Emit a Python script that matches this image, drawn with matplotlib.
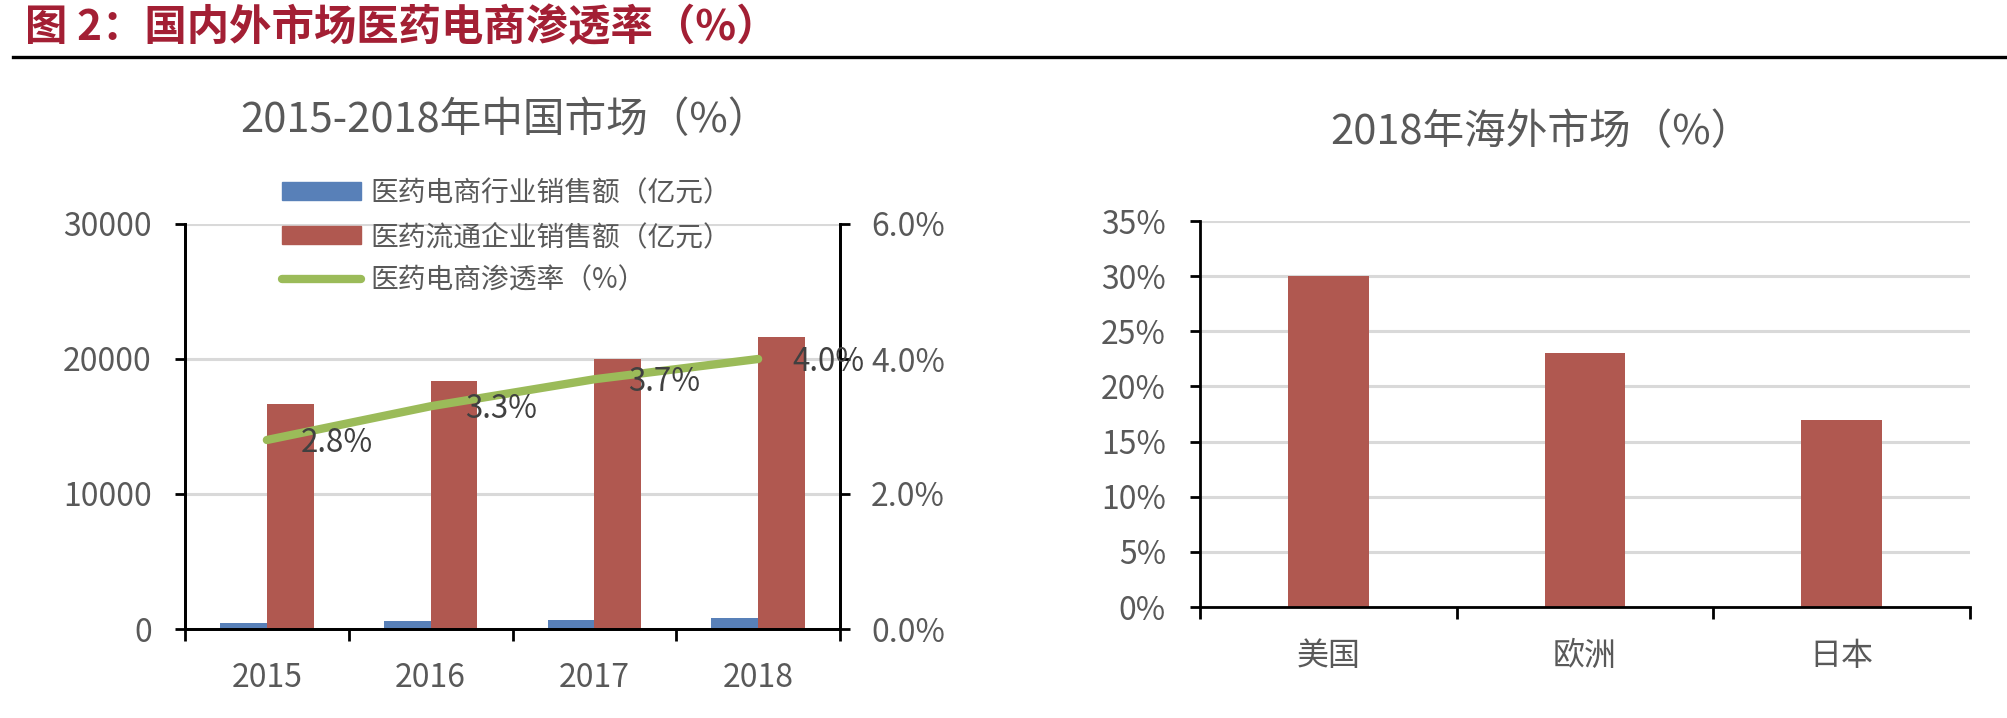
import numpy as np
import matplotlib
matplotlib.use('Agg')
import matplotlib.pyplot as plt
from matplotlib.lines import Line2D
from matplotlib.patches import Patch

plt.rcParams['font.family'] = ['Noto Sans CJK SC', 'DejaVu Sans']

""" Data """

years = ['2015', '2016', '2017', '2018']
ecommerce_sales = [450, 580, 700, 830]            # 医药电商行业销售额（亿元）
distribution_sales = [16700, 18400, 20000, 21600]  # 医药流通企业销售额（亿元）
penetration = [2.8, 3.3, 3.7, 4.0]                 # 医药电商渗透率（%）

regions = ['美国', '欧洲', '日本']
overseas_rate = [30, 23, 17]                       # 2018年海外市场（%）

left_ticks = [0, 10000, 20000, 30000]
right_ticks = [0.0, 2.0, 4.0, 6.0]
overseas_ticks = [0, 5, 10, 15, 20, 25, 30, 35]

""" Style """

W, H = 2008, 718
blue = '#5880B8'
red = '#B05850'
green = '#9BBB59'
grid_c = '#D9D9D9'
text_c = '#595959'
label_c = '#404040'
title_red = '#A31F34'


def fx(px):
    return px / W


def fy(py):
    return 1 - py / H


fig = plt.figure(figsize=(W / 100, H / 100), dpi=100)

# Figure header and rule
fig.text(fx(25), fy(28), '图 2：国内外市场医药电商渗透率（%）', fontsize=30.5,
         fontweight='bold', color=title_red, ha='left', va='center')
fig.add_artist(Line2D([fx(13), 1.0], [fy(57), fy(57)], color='black', lw=2.4,
                      transform=fig.transFigure))

""" Left chart: China market """

ax = fig.add_axes([fx(185), fy(629), fx(840) - fx(185), fy(224) - fy(629)])
x = np.arange(len(years))
bw = 0.286
ax.bar(x - bw / 2, ecommerce_sales, bw, color=blue, zorder=2)
ax.bar(x + bw / 2, distribution_sales, bw, color=red, zorder=2)
ax.set_xlim(-0.5, len(years) - 0.5)
ax.set_ylim(0, 30000)
ax.set_yticks(left_ticks)
ax.set_yticklabels([str(t) for t in left_ticks])
ax.set_axisbelow(True)
ax.yaxis.grid(True, color=grid_c, lw=2.2)

# boundaries get the tick marks, centres get the labels
ax.set_xticks(np.arange(-0.5, len(years), 1.0))
ax.set_xticklabels([])
ax.set_xticks(x, minor=True)
ax.set_xticklabels(years, minor=True)
ax.tick_params(axis='x', which='major', direction='out', length=8.5, width=2, color='black')
ax.tick_params(axis='x', which='minor', length=0, pad=24, labelsize=23, labelcolor=text_c)
ax.tick_params(axis='y', direction='out', length=7.5, width=2, color='black',
               pad=16.5, labelsize=23, labelcolor=text_c)
for s in ['left', 'right', 'bottom']:
    ax.spines[s].set_linewidth(2)
    ax.spines[s].set_color('black')
ax.spines['top'].set_visible(False)

ax2 = ax.twinx()
ax2.plot(x, penetration, color=green, lw=6, solid_capstyle='round', zorder=3)
ax2.set_ylim(0, 6.0)
ax2.set_yticks(right_ticks)
ax2.set_yticklabels([f'{t:.1f}%' for t in right_ticks])
ax2.tick_params(axis='y', direction='out', length=7.5, width=2, color='black',
                pad=15, labelsize=23, labelcolor=text_c)
for s in ['left', 'right', 'bottom']:
    ax2.spines[s].set_linewidth(2)
    ax2.spines[s].set_color('black')
ax2.spines['top'].set_visible(False)
for xi, v in zip(x, penetration):
    ax2.annotate(f'{v:.1f}%', (xi, v), xytext=(24.5, -2), textcoords='offset points',
                 ha='left', va='center', fontsize=22.5, color=label_c, zorder=4)

fig.text(fx(505), fy(120), '2015-2018年中国市场（%）', fontsize=30, color=text_c,
         ha='center', va='center')

handles = [Patch(color=blue), Patch(color=red),
           Line2D([0], [0], color=green, lw=6, solid_capstyle='round')]
labels = ['医药电商行业销售额（亿元）', '医药流通企业销售额（亿元）', '医药电商渗透率（%）']
fig.legend(handles, labels, loc='upper left', bbox_to_anchor=(fx(282), fy(178)),
           bbox_transform=fig.transFigure, frameon=False, fontsize=20,
           handlelength=2.85, handleheight=0.6, handletextpad=0.33, labelspacing=0.5,
           borderpad=0, borderaxespad=0, labelcolor=text_c)

""" Right chart: overseas markets 2018 """

bx = fig.add_axes([fx(1200), fy(607), fx(1970) - fx(1200), fy(221) - fy(607)])
xr = np.arange(len(regions))
bx.bar(xr, overseas_rate, 0.315, color=red, zorder=2)
bx.set_xlim(-0.5, len(regions) - 0.5)
bx.set_ylim(0, 35)
bx.set_yticks(overseas_ticks)
bx.set_yticklabels([f'{t}%' for t in overseas_ticks])
bx.set_axisbelow(True)
bx.yaxis.grid(True, color=grid_c, lw=2.2)
bx.set_xticks(np.arange(-0.5, len(regions), 1.0))
bx.set_xticklabels([])
bx.set_xticks(xr, minor=True)
bx.set_xticklabels(regions, minor=True)
bx.tick_params(axis='x', which='major', direction='out', length=8.5, width=2, color='black')
bx.tick_params(axis='x', which='minor', length=0, pad=24, labelsize=23, labelcolor=text_c)
bx.tick_params(axis='y', direction='out', length=7.5, width=2, color='black',
               pad=17, labelsize=23, labelcolor=text_c)
for s in ['left', 'bottom']:
    bx.spines[s].set_linewidth(2)
    bx.spines[s].set_color('black')
bx.spines['top'].set_visible(False)
bx.spines['right'].set_visible(False)

fig.text(fx(1541), fy(133), '2018年海外市场（%）', fontsize=30, color=text_c,
         ha='center', va='center')

fig.savefig('out.png', dpi=100, facecolor='white')
